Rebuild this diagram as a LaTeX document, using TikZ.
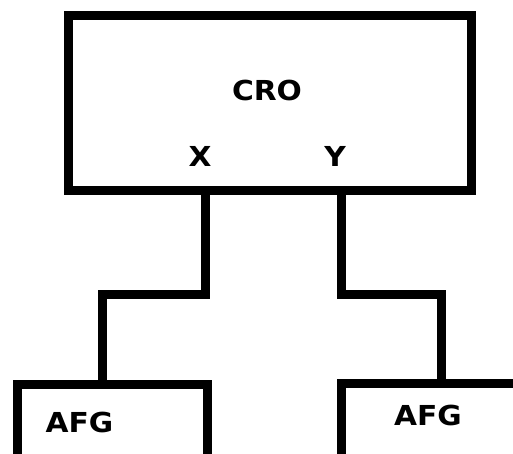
\documentclass[tikz,border=0pt]{standalone}
\usepackage{fontspec}
\setmainfont{DejaVu Sans}
\newfontfamily\labfont{DejaVu Sans Bold}[FakeStretch=1.08]
\begin{document}
\begin{tikzpicture}[x=1pt,y=-1pt,
  box/.style={draw=black,line width=9pt,inner sep=0pt,line join=miter},
  wire/.style={draw=black,line width=9pt,line join=miter},
  lab/.style={inner sep=0pt,font=\labfont\fontsize{27.5}{27.5}\selectfont}]
  \useasboundingbox (0,0) rectangle (513,454);
  \clip (0,0) rectangle (513,454);
  % oscilloscope
  \node[box,minimum width=402.5pt,minimum height=175pt] (cro) at (269.75,103.5) {};
  \node[lab] (crolab) at (267,90) {CRO};
  \node[lab] (xlab) at (200,156) {X};
  \node[lab] (ylab) at (335,156) {Y};
  % generators (lower parts run off the page)
  \node[box,minimum width=190pt,minimum height=160pt] (afgA) at (112,464) {};
  \node[box,minimum width=220pt,minimum height=160pt] (afgB) at (451,463) {};
  \node[lab] (afgAlab) at (79.5,422) {AFG};
  \node[lab] (afgBlab) at (428,415.5) {AFG};
  % channel taps and drop points
  \coordinate (xtap) at (205,0);
  \coordinate (ytap) at (341,0);
  \coordinate (xdrop) at (102,0);
  \coordinate (ydrop) at (441,0);
  \draw[wire] (cro.south -| xtap) -- ++(0,98.5) -| (afgA.north -| xdrop);
  \draw[wire] (cro.south -| ytap) -- ++(0,98.5) -| (afgB.north -| ydrop);
\end{tikzpicture}
\end{document}
